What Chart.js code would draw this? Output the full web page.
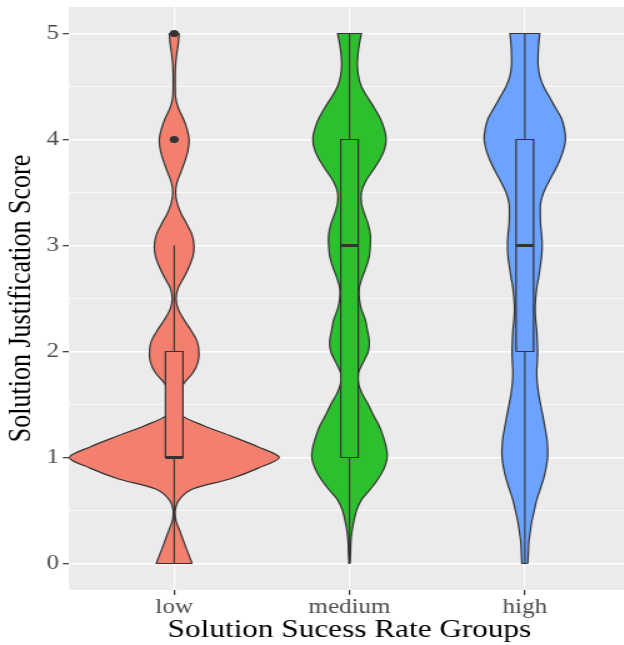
<!DOCTYPE html>
<html>
<head>
<meta charset="utf-8">
<script src="https://cdn.jsdelivr.net/npm/chart.js@4.4.1/dist/chart.umd.min.js"></script>
<style>
html,body{margin:0;padding:0;overflow:hidden;background:#ffffff;width:624px;height:645px;}
#wrap{position:absolute;left:0;top:0;width:508px;height:645px;transform:scaleX(1.25);transform-origin:0 0;}
</style>
</head>
<body>
<div id="wrap"><canvas id="c"></canvas></div>
<script>
// ---------- data ----------
const categories = ['low', 'medium', 'high'];
const yTickValues = [0, 1, 2, 3, 4, 5];

// y levels at which the violin half-widths (in category units) were read
const densityY = [0,0.1,0.2,0.3,0.4,0.5,0.6,0.7,0.8,0.9,1,1.1,1.2,1.3,1.4,1.5,1.6,1.7,1.8,1.9,2,2.1,2.2,2.3,2.4,2.5,2.6,2.7,2.8,2.9,3,3.1,3.2,3.3,3.4,3.5,3.6,3.7,3.8,3.9,4,4.1,4.2,4.3,4.4,4.5,4.6,4.7,4.8,4.9,5];

const lowDensity = [0.102,0.079,0.056,0.034,0.011,0.006,0.028,0.102,0.322,0.480,0.599,0.480,0.328,0.169,0.040,0.017,0.023,0.056,0.107,0.136,0.141,0.130,0.096,0.056,0.023,0.011,0.023,0.056,0.085,0.107,0.113,0.102,0.073,0.040,0.017,0.008,0.017,0.040,0.062,0.079,0.085,0.073,0.051,0.023,0.008,0.006,0.006,0.008,0.014,0.023,0.028];
const mediumDensity = [0.003,0.006,0.008,0.014,0.025,0.040,0.068,0.119,0.164,0.198,0.215,0.209,0.192,0.169,0.136,0.107,0.073,0.051,0.051,0.079,0.107,0.113,0.102,0.090,0.068,0.056,0.056,0.073,0.096,0.113,0.119,0.119,0.107,0.085,0.068,0.068,0.090,0.130,0.169,0.198,0.209,0.198,0.175,0.141,0.102,0.068,0.051,0.045,0.048,0.056,0.068];
const highDensity = [0.017,0.020,0.023,0.031,0.040,0.054,0.068,0.088,0.107,0.121,0.130,0.130,0.124,0.113,0.102,0.090,0.079,0.071,0.068,0.071,0.073,0.071,0.068,0.062,0.059,0.062,0.068,0.079,0.088,0.096,0.099,0.096,0.090,0.088,0.090,0.107,0.136,0.169,0.198,0.220,0.232,0.226,0.209,0.175,0.141,0.107,0.085,0.076,0.076,0.079,0.085];

const q1 = [1, 1, 2];
const medians = [1, 3, 3];
const q3 = [2, 4, 4];
const whiskerLow = [0, 0, 0];
const whiskerHigh = [3, 5, 5];
const outlierGroup = [0, 0];
const outlierValues = [4, 5];

// ---------- style ----------
const fills = ['#F37F6F', '#2EBF2E', '#6CA3FF'];
const ink = '#333333';
const boxHalf = 0.05;
const serif = 'Liberation Serif';

const densities = [lowDensity, mediumDensity, highDensity];
const datasets = [];

densities.forEach((dens, g) => {
  const c = g + 1;
  const n = densityY.length;
  const right = densityY.map((y, i) => ({x: c + dens[i], y}));
  const left = densityY.map((y, i) => ({x: c - dens[i], y})).reverse();
  // endpoints doubled so the smoothed outline keeps square corners at the flat ends
  const pts = [right[0], ...right, right[n - 1], left[0], ...left, left[n - 1], right[0], right[0]]
    .map(p => ({x: p.x, y: p.y}));
  datasets.push({data: pts, borderColor: ink, borderWidth: 1.2, backgroundColor: fills[g],
    fill: 'shape', pointRadius: 0, tension: 0.3, order: 10});
});

categories.forEach((cat, g) => {
  const c = g + 1;
  datasets.push({data: [{x: c, y: whiskerLow[g]}, {x: c, y: q1[g]}], borderColor: ink, borderWidth: 1.1,
    pointRadius: 0, fill: false, order: 8});
  datasets.push({data: [{x: c, y: q3[g]}, {x: c, y: whiskerHigh[g]}], borderColor: ink, borderWidth: 1.1,
    pointRadius: 0, fill: false, order: 8});
  datasets.push({data: [
      {x: c - boxHalf, y: q1[g]}, {x: c + boxHalf, y: q1[g]}, {x: c + boxHalf, y: q3[g]},
      {x: c - boxHalf, y: q3[g]}, {x: c - boxHalf, y: q1[g]}],
    borderColor: ink, borderWidth: 1.2, backgroundColor: fills[g], fill: 'shape', pointRadius: 0, order: 6});
  datasets.push({data: [{x: c - boxHalf, y: medians[g]}, {x: c + boxHalf, y: medians[g]}],
    borderColor: ink, borderWidth: 2.8, pointRadius: 0, fill: false, order: 4});
});

datasets.push({data: outlierValues.map((v, i) => ({x: outlierGroup[i] + 1, y: v})), showLine: false,
  pointRadius: 3.6, pointBackgroundColor: ink, pointBorderWidth: 0, order: 1});

const gridValues = [];
yTickValues.forEach((v, i) => {
  gridValues.push(v);
  if (i < yTickValues.length - 1) gridValues.push((v + yTickValues[i + 1]) / 2);
});

const panelBg = {
  id: 'panelBg',
  beforeDraw(chart) {
    const {ctx, chartArea: a} = chart;
    ctx.save();
    ctx.fillStyle = '#EBEBEB';
    ctx.fillRect(a.left, a.top, a.right - a.left, a.bottom - a.top);
    ctx.restore();
  }
};

new Chart(document.getElementById('c'), {
  type: 'line',
  data: {datasets},
  plugins: [panelBg],
  options: {
    responsive: true,
    maintainAspectRatio: false,
    devicePixelRatio: 1,
    animation: false,
    layout: {padding: {top: 7, left: 0, right: 0, bottom: 0}},
    plugins: {legend: {display: false}, tooltip: {enabled: false}},
    scales: {
      x: {
        type: 'linear', min: 0.4, max: 3.6,
        afterBuildTicks: s => { s.ticks = categories.map((_, i) => ({value: i + 1})); },
        afterFit: s => { s.height = 55; s.paddingLeft = 0; s.paddingRight = 0; },
        ticks: {autoSkip: false, maxRotation: 0, color: '#4D4D4D', padding: 1,
          font: {family: serif, size: 20},
          callback: v => categories[Math.round(v) - 1] || ''},
        grid: {color: '#FFFFFF', lineWidth: 1.2, drawTicks: true, tickLength: 5, tickColor: ink, tickWidth: 1.2},
        border: {display: false},
        title: {display: true, text: 'Solution Sucess Rate Groups', color: '#000000',
          font: {family: serif, size: 25}, padding: {top: 0, bottom: 0}}
      },
      y: {
        type: 'linear', min: -0.25, max: 5.25,
        afterBuildTicks: s => { s.ticks = gridValues.map(v => ({value: v})); },
        afterFit: s => { s.width = 55.2; s.paddingTop = 0; s.paddingBottom = 0; },
        ticks: {autoSkip: false, color: '#4D4D4D', padding: 3,
          font: {family: serif, size: 20},
          callback: v => yTickValues.includes(v) ? String(v) : ''},
        grid: {color: '#FFFFFF',
          lineWidth: ctx => (ctx.tick && yTickValues.includes(ctx.tick.value)) ? 1.4 : 0.7,
          drawTicks: true, tickLength: 5, tickWidth: 1.2,
          tickColor: ctx => (ctx.tick && yTickValues.includes(ctx.tick.value)) ? ink : 'rgba(0,0,0,0)'},
        border: {display: false},
        title: {display: true, text: 'Solution Justification Score', color: '#000000',
          font: {family: serif, size: 26}, padding: {top: 2, bottom: 0}}
      }
    }
  }
});
</script>
</body>
</html>
